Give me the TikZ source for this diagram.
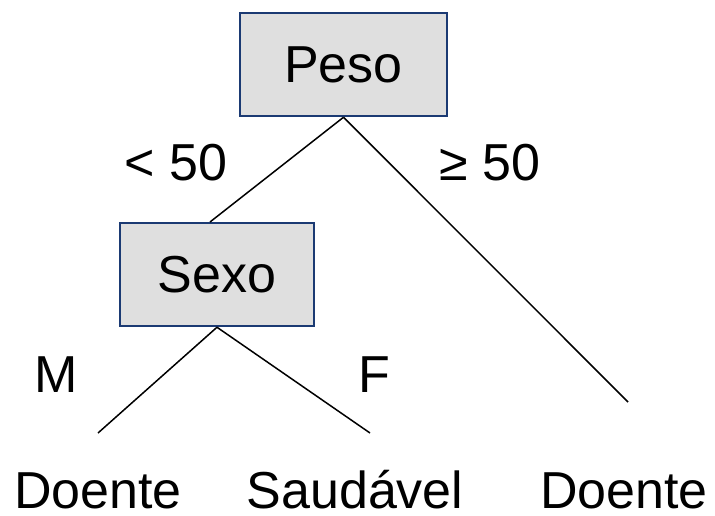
\documentclass[tikz,border=0pt]{standalone}
\usepackage{fontspec}
\setmainfont{Liberation Sans}
\definecolor{boxfill}{HTML}{DFDFDF}
\definecolor{boxline}{HTML}{1B3A73}
\tikzset{
  test node/.style={
    rectangle,
    draw=boxline,
    fill=boxfill,
    line width=2.5pt,
    minimum width=#1,
    minimum height=103pt,
    inner sep=0pt,
    anchor=center,
    font=\fontsize{52}{60}\selectfont
  },
  test node/.default=207pt,
  branch label/.style={
    anchor=base,
    inner sep=0pt,
    font=\fontsize{52}{60}\selectfont
  },
  branch/.style={line width=1.5pt}
}

\begin{document}
\begin{tikzpicture}[x=1pt,y=-1pt]
\useasboundingbox (0,0) rectangle (715,516);
% internal nodes
\node[test node] (peso) at (343.5,64.5) {Peso};
\node[test node=194pt] (sexo) at (217,274.5) {Sexo};
% free ends of the edges
\coordinate (sexotop) at (210,222);
\coordinate (endm) at (98,433);
\coordinate (endf) at (370,433);
\coordinate (endr) at (628,402);
\draw[branch] (peso.south) -- (sexotop);
\draw[branch] (peso.south) -- (endr);
\draw[branch] (sexo.south) -- (endm);
\draw[branch] (sexo.south) -- (endf);
% edge labels
\node[branch label] (lt) at (176,181) {< 50};
\node[branch label] (ge) at (490,181) {≥ 50};
\node[branch label] (m) at (56,392) {M};
\node[branch label] (f) at (374,392) {F};
% leaves
\node[branch label] (leafm) at (98,508) {Doente};
\node[branch label] (leaff) at (355,508) {Saudável};
\node[branch label] (leafr) at (624,508) {Doente};
\end{tikzpicture}
\end{document}
